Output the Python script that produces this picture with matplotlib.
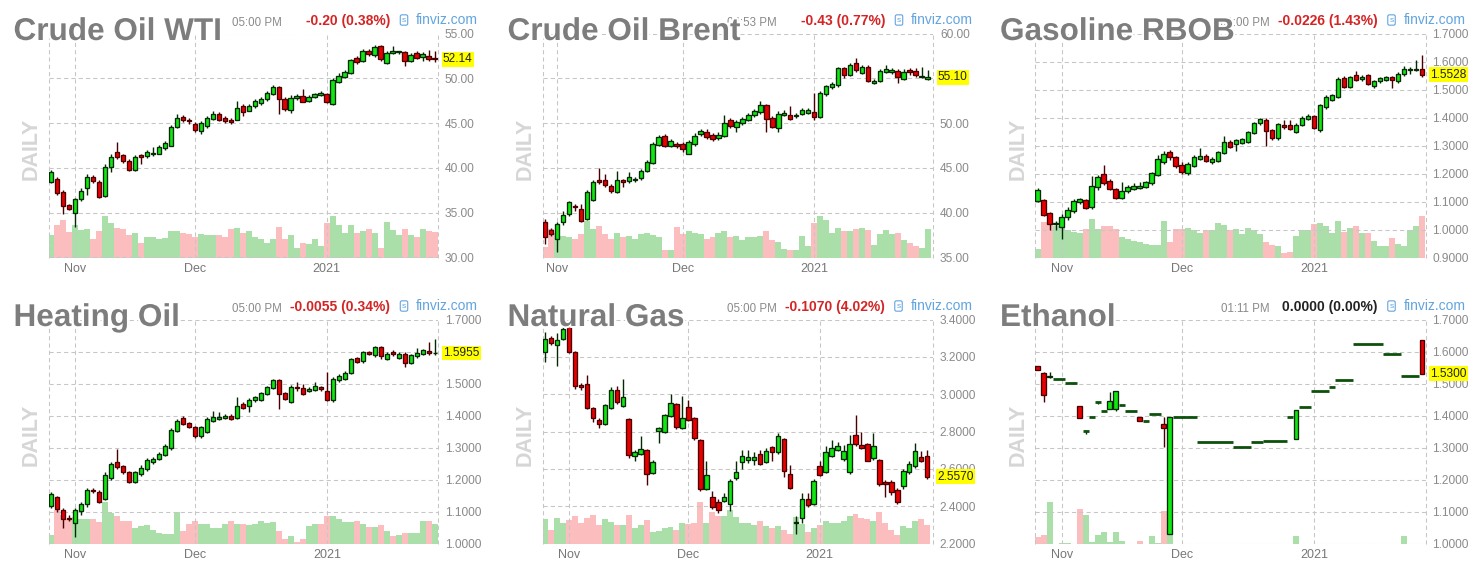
import numpy as np
import matplotlib.pyplot as plt
import matplotlib.patheffects as pe

plt.rcParams['font.family'] = ['Liberation Sans', 'DejaVu Sans']

W, H = 1480, 569

# ---------------- data ----------------
months = ['Nov', 'Dec', '2021']

wti_open = [38.4, 38.8, 37.3, 35.9, 35.0, 36.5, 37.8, 39.0, 38.4, 36.9,
            40.1, 41.8, 41.4, 40.8, 39.8, 41.4, 41.3, 41.5, 41.6, 42.2,
            42.5, 44.6, 45.7, 45.3, 44.9, 44.1, 44.7, 45.5, 46.0, 45.6,
            45.4, 45.4, 46.9, 46.4, 46.9, 47.2, 47.7, 48.3, 49.0, 47.7,
            46.5, 47.8, 48.0, 47.5, 47.9, 48.1, 48.2, 47.1, 49.6, 50.2,
            50.6, 52.3, 51.9, 53.1, 52.6, 53.6, 51.7, 52.8, 52.9, 52.9,
            51.9, 52.8, 52.4, 52.5, 52.3]
wti_close = [39.5, 37.2, 35.8, 35.4, 36.5, 37.4, 39.0, 38.5, 36.7, 40.1,
             41.2, 41.2, 40.8, 39.8, 41.2, 41.2, 41.8, 41.7, 42.3, 42.8,
             44.6, 45.6, 45.3, 45.2, 44.2, 45.0, 45.6, 46.0, 45.4, 45.2,
             45.1, 46.7, 46.2, 46.9, 47.5, 47.7, 48.4, 49.0, 47.7, 46.6,
             47.8, 48.0, 47.4, 47.9, 48.2, 48.4, 47.4, 49.8, 50.3, 50.7,
             52.0, 51.8, 53.1, 52.7, 53.5, 52.1, 52.8, 53.1, 53.0, 51.9,
             52.6, 52.3, 52.7, 52.1, 52.14]
wti_high = [39.8, 39.0, 37.5, 36.0, 36.6, 37.8, 39.3, 39.2, 38.6, 40.4,
            41.6, 42.9, 41.6, 41.0, 41.4, 41.6, 42.0, 42.3, 42.5, 43.0,
            44.8, 46.0, 45.9, 45.6, 45.1, 45.2, 45.8, 46.4, 46.2, 45.8,
            45.6, 47.5, 47.1, 47.1, 47.7, 47.9, 48.6, 49.2, 49.1, 47.9,
            48.1, 48.2, 48.8, 48.1, 48.4, 48.6, 48.4, 50.0, 50.6, 50.9,
            52.2, 52.5, 53.3, 53.3, 53.7, 53.7, 53.0, 53.6, 53.1, 53.1,
            52.8, 53.0, 52.9, 53.2, 53.0]
wti_low = [38.3, 37.0, 34.9, 35.3, 33.4, 36.3, 37.0, 38.3, 36.6, 36.8,
           39.5, 41.0, 40.6, 39.7, 39.7, 40.4, 41.1, 41.3, 41.5, 42.0,
           42.4, 44.4, 45.1, 44.9, 44.0, 43.8, 44.5, 45.3, 45.2, 45.0,
           44.9, 45.3, 45.8, 46.3, 46.7, 47.0, 47.5, 48.1, 46.0, 46.4,
           46.1, 47.6, 47.3, 47.4, 47.8, 48.0, 47.2, 47.0, 49.5, 50.0,
           50.5, 51.6, 51.8, 52.5, 52.4, 51.9, 51.6, 52.7, 52.7, 51.4,
           51.8, 52.1, 51.9, 51.9, 51.8]
wti_vol = [67, 97, 112, 77, 97, 83, 85, 57, 80, 125,
           105, 90, 87, 67, 75, 45, 63, 63, 57, 60,
           80, 80, 73, 70, 63, 72, 67, 67, 67, 63,
           85, 89, 73, 80, 63, 55, 45, 57, 93, 57,
           67, 30, 45, 40, 55, 35, 103, 125, 98, 73,
           97, 75, 80, 85, 75, 30, 107, 83, 67, 85,
           67, 63, 85, 80, 77]
wti_ticks = [30, 35, 40, 45, 50, 55]

brent_open = [39.0, 38.1, 37.1, 39.0, 39.9, 40.8, 40.4, 39.3, 41.4, 43.6,
              43.6, 43.0, 42.3, 43.6, 43.5, 43.6, 43.9, 44.7, 45.5, 47.6,
              48.6, 47.5, 47.7, 47.7, 46.6, 47.7, 48.8, 49.0, 48.7, 48.3,
              48.6, 50.3, 49.6, 50.0, 50.4, 50.9, 51.2, 52.0, 50.6, 49.4,
              50.9, 50.9, 50.8, 51.0, 51.1, 51.2, 50.7, 53.2, 54.0, 54.2,
              56.1, 55.4, 56.7, 55.6, 56.3, 54.5, 54.7, 55.7, 55.7, 55.8,
              54.9, 55.9, 55.8, 55.1, 54.9]
brent_close = [37.3, 37.6, 38.7, 39.7, 41.2, 40.6, 39.1, 42.3, 43.4, 43.4,
               43.1, 42.4, 43.6, 43.4, 44.0, 43.8, 44.7, 45.7, 47.7, 48.5,
               47.5, 48.0, 47.5, 47.1, 47.9, 48.6, 49.1, 48.4, 48.2, 48.7,
               50.0, 49.7, 50.1, 50.5, 50.9, 51.4, 52.0, 50.5, 49.6, 51.0,
               51.1, 50.5, 50.9, 51.5, 51.5, 50.7, 53.4, 54.1, 54.4, 56.1,
               55.4, 56.5, 55.9, 56.3, 54.7, 54.7, 55.8, 56.0, 55.9, 55.1,
               55.7, 55.7, 55.4, 55.3, 55.1]
brent_high = [39.3, 38.3, 39.0, 40.2, 41.3, 41.0, 41.0, 42.5, 43.6, 45.0,
              44.3, 43.2, 44.6, 43.8, 44.5, 44.0, 44.9, 45.9, 47.9, 48.7,
              48.8, 48.2, 47.9, 47.9, 48.1, 48.9, 49.3, 49.3, 48.9, 49.0,
              50.9, 50.6, 50.3, 50.7, 51.1, 51.6, 52.5, 52.1, 50.8, 51.3,
              51.5, 51.9, 51.1, 51.7, 51.7, 53.4, 53.6, 54.3, 54.6, 56.3,
              56.3, 56.7, 57.3, 56.5, 56.5, 54.9, 56.0, 56.5, 56.1, 56.0,
              56.0, 56.1, 56.1, 56.3, 55.9]
brent_low = [36.5, 37.4, 35.6, 38.6, 39.6, 40.2, 39.0, 39.2, 41.3, 43.2,
             42.9, 42.2, 42.2, 42.9, 43.3, 43.4, 43.7, 44.5, 45.4, 47.4,
             47.3, 47.3, 47.2, 46.8, 46.5, 47.5, 48.6, 48.2, 48.0, 48.1,
             48.5, 49.5, 49.0, 49.8, 50.2, 50.7, 51.0, 49.0, 49.4, 49.0,
             50.8, 50.3, 50.6, 50.9, 51.0, 50.4, 50.6, 53.0, 53.8, 54.0,
             55.0, 55.3, 55.7, 55.5, 54.6, 54.4, 54.6, 55.6, 55.5, 54.5,
             54.8, 55.4, 55.2, 55.0, 54.8]
brent_vol = [32, 90, 75, 67, 63, 57, 72, 115, 90, 97,
             72, 57, 75, 63, 67, 59, 72, 75, 70, 63,
             23, 23, 95, 73, 82, 78, 72, 59, 65, 78,
             82, 65, 68, 55, 63, 63, 67, 82, 55, 48,
             27, 23, 23, 68, 35, 108, 130, 117, 77, 93,
             82, 82, 90, 93, 85, 40, 72, 85, 72, 77,
             55, 45, 35, 30, 90]
brent_ticks = [35, 40, 45, 50, 55, 60]

rbob_open = [1.103, 1.105, 1.058, 1.018, 1.008, 1.043, 1.067, 1.097, 1.105, 1.079,
             1.151, 1.198, 1.172, 1.145, 1.113, 1.139, 1.145, 1.147, 1.153, 1.165,
             1.196, 1.240, 1.276, 1.258, 1.232, 1.201, 1.228, 1.252, 1.261, 1.240,
             1.246, 1.273, 1.312, 1.306, 1.310, 1.312, 1.344, 1.380, 1.392, 1.354,
             1.327, 1.375, 1.375, 1.348, 1.375, 1.395, 1.404, 1.354, 1.437, 1.464,
             1.473, 1.542, 1.509, 1.551, 1.538, 1.551, 1.511, 1.530, 1.533, 1.545,
             1.530, 1.557, 1.569, 1.569, 1.575]
rbob_close = [1.141, 1.053, 1.019, 1.025, 1.046, 1.070, 1.103, 1.109, 1.077, 1.157,
              1.187, 1.165, 1.145, 1.113, 1.136, 1.151, 1.155, 1.155, 1.169, 1.201,
              1.252, 1.270, 1.258, 1.228, 1.204, 1.234, 1.258, 1.264, 1.246, 1.252,
              1.276, 1.312, 1.296, 1.320, 1.322, 1.348, 1.380, 1.395, 1.351, 1.327,
              1.375, 1.366, 1.360, 1.375, 1.399, 1.407, 1.363, 1.443, 1.473, 1.479,
              1.539, 1.509, 1.545, 1.535, 1.546, 1.521, 1.530, 1.540, 1.545, 1.535,
              1.557, 1.575, 1.575, 1.575, 1.5528]
rbob_high = [1.148, 1.108, 1.062, 1.030, 1.055, 1.080, 1.110, 1.112, 1.110, 1.190,
             1.195, 1.232, 1.180, 1.150, 1.170, 1.160, 1.165, 1.170, 1.175, 1.205,
             1.265, 1.280, 1.285, 1.262, 1.240, 1.240, 1.265, 1.290, 1.268, 1.258,
             1.280, 1.335, 1.318, 1.325, 1.328, 1.352, 1.385, 1.400, 1.398, 1.358,
             1.380, 1.390, 1.392, 1.380, 1.405, 1.412, 1.410, 1.450, 1.480, 1.485,
             1.545, 1.548, 1.550, 1.565, 1.552, 1.555, 1.535, 1.545, 1.550, 1.550,
             1.562, 1.585, 1.580, 1.605, 1.622]
rbob_low = [1.100, 1.050, 1.000, 1.000, 0.966, 1.035, 1.060, 1.090, 1.072, 1.075,
            1.140, 1.160, 1.140, 1.110, 1.110, 1.130, 1.140, 1.145, 1.150, 1.160,
            1.190, 1.235, 1.250, 1.220, 1.200, 1.195, 1.222, 1.248, 1.240, 1.235,
            1.242, 1.268, 1.290, 1.280, 1.305, 1.308, 1.340, 1.375, 1.300, 1.320,
            1.320, 1.360, 1.355, 1.344, 1.370, 1.390, 1.358, 1.350, 1.430, 1.460,
            1.470, 1.505, 1.505, 1.530, 1.532, 1.515, 1.505, 1.525, 1.530, 1.505,
            1.525, 1.550, 1.555, 1.565, 1.545]
rbob_vol = [27, 112, 107, 97, 92, 85, 80, 75, 89, 120,
            89, 97, 97, 89, 65, 57, 53, 48, 43, 40,
            40, 115, 48, 89, 89, 92, 85, 78, 85, 85,
            107, 102, 85, 89, 72, 92, 87, 72, 48, 40,
            35, 13, 17, 67, 85, 85, 103, 107, 97, 77,
            115, 80, 93, 97, 77, 77, 53, 35, 35, 62,
            43, 35, 85, 97, 130]
rbob_ticks = [0.9, 1.0, 1.1, 1.2, 1.3, 1.4, 1.5, 1.6, 1.7]

ho_open = [1.116, 1.144, 1.105, 1.081, 1.064, 1.102, 1.123, 1.168, 1.162, 1.139,
           1.204, 1.256, 1.241, 1.222, 1.193, 1.217, 1.233, 1.254, 1.264, 1.277,
           1.298, 1.353, 1.392, 1.377, 1.364, 1.335, 1.350, 1.384, 1.390, 1.392,
           1.400, 1.392, 1.437, 1.431, 1.447, 1.450, 1.468, 1.486, 1.510, 1.471,
           1.442, 1.489, 1.486, 1.477, 1.481, 1.488, 1.475, 1.447, 1.510, 1.515,
           1.534, 1.580, 1.569, 1.597, 1.588, 1.614, 1.576, 1.597, 1.581, 1.593,
           1.565, 1.585, 1.593, 1.602, 1.594]
ho_close = [1.155, 1.108, 1.076, 1.076, 1.105, 1.123, 1.168, 1.163, 1.131, 1.214,
            1.249, 1.238, 1.222, 1.193, 1.222, 1.235, 1.262, 1.264, 1.280, 1.306,
            1.356, 1.384, 1.374, 1.364, 1.335, 1.364, 1.390, 1.395, 1.396, 1.400,
            1.390, 1.429, 1.423, 1.450, 1.458, 1.471, 1.489, 1.510, 1.468, 1.452,
            1.489, 1.485, 1.468, 1.484, 1.491, 1.482, 1.450, 1.515, 1.525, 1.534,
            1.576, 1.567, 1.597, 1.592, 1.614, 1.586, 1.593, 1.591, 1.593, 1.565,
            1.588, 1.596, 1.604, 1.594, 1.5955]
ho_high = [1.160, 1.148, 1.110, 1.090, 1.110, 1.130, 1.172, 1.172, 1.166, 1.225,
           1.255, 1.295, 1.245, 1.226, 1.226, 1.245, 1.266, 1.270, 1.285, 1.310,
           1.362, 1.390, 1.398, 1.381, 1.368, 1.368, 1.394, 1.415, 1.412, 1.405,
           1.404, 1.458, 1.441, 1.454, 1.462, 1.475, 1.493, 1.515, 1.514, 1.475,
           1.495, 1.505, 1.500, 1.488, 1.506, 1.492, 1.535, 1.519, 1.530, 1.538,
           1.580, 1.584, 1.601, 1.601, 1.618, 1.618, 1.597, 1.605, 1.597, 1.597,
           1.592, 1.612, 1.608, 1.630, 1.640]
ho_low = [1.110, 1.100, 1.050, 1.070, 1.019, 1.090, 1.115, 1.158, 1.127, 1.135,
          1.198, 1.232, 1.218, 1.190, 1.190, 1.210, 1.228, 1.250, 1.260, 1.272,
          1.293, 1.348, 1.370, 1.360, 1.330, 1.330, 1.346, 1.380, 1.385, 1.388,
          1.386, 1.388, 1.419, 1.410, 1.443, 1.446, 1.464, 1.482, 1.419, 1.448,
          1.438, 1.478, 1.464, 1.473, 1.477, 1.478, 1.446, 1.443, 1.506, 1.511,
          1.530, 1.563, 1.565, 1.588, 1.584, 1.576, 1.572, 1.586, 1.577, 1.552,
          1.561, 1.581, 1.589, 1.590, 1.590]
ho_vol = [25, 105, 87, 77, 82, 77, 77, 75, 67, 129,
          95, 85, 71, 71, 49, 55, 57, 42, 34, 29,
          29, 97, 39, 59, 70, 61, 59, 49, 49, 61,
          70, 61, 61, 57, 61, 69, 64, 67, 39, 15,
          22, 5, 15, 55, 59, 59, 85, 85, 75, 67,
          67, 70, 59, 51, 51, 57, 39, 22, 27, 31,
          31, 31, 71, 71, 61]
ho_ticks = [1.0, 1.1, 1.2, 1.3, 1.4, 1.5, 1.6, 1.7]

ng_open = [3.226, 3.301, 3.266, 3.298, 3.366, 3.226, 3.051, 3.056, 2.925, 2.864,
           2.841, 2.925, 3.025, 2.936, 2.868, 2.667, 2.680, 2.703, 2.577, 2.805,
           2.796, 2.882, 2.948, 2.818, 2.930, 2.871, 2.757, 2.491, 2.447, 2.420,
           2.429, 2.411, 2.549, 2.638, 2.648, 2.648, 2.680, 2.638, 2.719, 2.689,
           2.760, 2.572, 2.309, 2.334, 2.438, 2.411, 2.613, 2.585, 2.671, 2.703,
           2.653, 2.581, 2.782, 2.728, 2.733, 2.656, 2.649, 2.530, 2.527, 2.488,
           2.509, 2.581, 2.613, 2.662, 2.671]
ng_close = [3.298, 3.276, 3.289, 3.348, 3.226, 3.043, 3.038, 2.925, 2.871, 2.841,
            2.943, 3.025, 2.957, 2.984, 2.674, 2.689, 2.706, 2.572, 2.638, 2.818,
            2.886, 2.954, 2.823, 2.871, 2.864, 2.764, 2.491, 2.567, 2.393, 2.380,
            2.447, 2.536, 2.581, 2.671, 2.666, 2.666, 2.626, 2.698, 2.689, 2.775,
            2.590, 2.495, 2.316, 2.438, 2.405, 2.536, 2.567, 2.692, 2.710, 2.721,
            2.698, 2.733, 2.733, 2.710, 2.644, 2.724, 2.518, 2.518, 2.477, 2.423,
            2.590, 2.626, 2.698, 2.644, 2.557]
ng_high = [3.334, 3.310, 3.330, 3.370, 3.380, 3.230, 3.060, 3.102, 2.930, 2.870,
           2.950, 3.040, 3.045, 3.080, 2.875, 2.700, 2.774, 2.708, 2.645, 2.825,
           2.895, 3.000, 2.952, 2.990, 2.970, 2.880, 2.760, 2.640, 2.480, 2.440,
           2.470, 2.545, 2.640, 2.700, 2.700, 2.690, 2.700, 2.710, 2.725, 2.790,
           2.765, 2.620, 2.350, 2.470, 2.470, 2.545, 2.640, 2.720, 2.755, 2.745,
           2.730, 2.780, 2.890, 2.800, 2.740, 2.790, 2.655, 2.540, 2.540, 2.495,
           2.600, 2.640, 2.740, 2.695, 2.700]
ng_low = [3.174, 3.262, 3.149, 3.290, 3.220, 3.030, 3.025, 2.920, 2.850, 2.820,
          2.835, 2.920, 2.950, 2.930, 2.660, 2.640, 2.672, 2.513, 2.570, 2.739,
          2.790, 2.876, 2.815, 2.812, 2.858, 2.755, 2.480, 2.485, 2.385, 2.365,
          2.420, 2.375, 2.540, 2.600, 2.630, 2.620, 2.620, 2.630, 2.640, 2.680,
          2.555, 2.490, 2.250, 2.310, 2.395, 2.405, 2.560, 2.580, 2.665, 2.695,
          2.640, 2.575, 2.720, 2.705, 2.640, 2.650, 2.510, 2.450, 2.460, 2.410,
          2.490, 2.575, 2.605, 2.635, 2.545]
ng_vol = [75, 42, 79, 65, 72, 85, 65, 80, 89, 57,
          75, 67, 57, 57, 87, 47, 57, 74, 35, 40,
          49, 52, 42, 65, 59, 65, 129, 65, 97, 84,
          84, 105, 82, 65, 62, 57, 69, 55, 49, 55,
          42, 29, 82, 59, 35, 47, 57, 71, 65, 62,
          71, 85, 92, 79, 75, 69, 97, 62, 42, 27,
          53, 49, 70, 75, 57]
ng_ticks = [2.2, 2.4, 2.6, 2.8, 3.0, 3.2, 3.4]

eth_open = [1.554, 1.534, 1.520, 1.513, 1.513, 1.502, 1.502, 1.431, 1.351, 1.395,
            1.442, 1.414, 1.421, 1.419, 1.434, 1.414, 1.414, 1.395, 1.384, 1.405,
            1.405, 1.374, 1.029, 1.395, 1.395, 1.395, 1.395, 1.317, 1.317, 1.317,
            1.317, 1.317, 1.317, 1.301, 1.301, 1.301, 1.317, 1.317, 1.321, 1.321,
            1.321, 1.321, 1.395, 1.327, 1.428, 1.428, 1.478, 1.478, 1.478, 1.489,
            1.512, 1.512, 1.512, 1.625, 1.625, 1.625, 1.625, 1.625, 1.591, 1.591,
            1.591, 1.523, 1.523, 1.523, 1.637]
eth_close = [1.543, 1.463, 1.525, 1.513, 1.513, 1.502, 1.502, 1.392, 1.351, 1.395,
             1.442, 1.414, 1.444, 1.475, 1.434, 1.414, 1.414, 1.384, 1.384, 1.405,
             1.405, 1.360, 1.395, 1.395, 1.395, 1.395, 1.395, 1.317, 1.317, 1.317,
             1.317, 1.317, 1.317, 1.301, 1.301, 1.301, 1.317, 1.317, 1.321, 1.321,
             1.321, 1.321, 1.395, 1.416, 1.428, 1.428, 1.478, 1.478, 1.478, 1.489,
             1.512, 1.512, 1.512, 1.625, 1.625, 1.625, 1.625, 1.625, 1.591, 1.591,
             1.591, 1.523, 1.523, 1.523, 1.530]
eth_high = [1.556, 1.536, 1.535, 1.513, 1.513, 1.502, 1.502, 1.431, 1.351, 1.395,
            1.442, 1.414, 1.475, 1.478, 1.434, 1.414, 1.414, 1.395, 1.384, 1.405,
            1.405, 1.395, 1.395, 1.395, 1.395, 1.395, 1.395, 1.317, 1.317, 1.317,
            1.317, 1.317, 1.317, 1.301, 1.301, 1.301, 1.317, 1.317, 1.321, 1.321,
            1.321, 1.321, 1.395, 1.416, 1.428, 1.428, 1.478, 1.478, 1.478, 1.489,
            1.512, 1.512, 1.512, 1.625, 1.625, 1.625, 1.625, 1.625, 1.591, 1.591,
            1.591, 1.523, 1.523, 1.523, 1.637]
eth_low = [1.541, 1.443, 1.518, 1.513, 1.513, 1.502, 1.502, 1.392, 1.343, 1.395,
           1.437, 1.414, 1.419, 1.415, 1.434, 1.414, 1.414, 1.384, 1.384, 1.405,
           1.405, 1.301, 1.029, 1.395, 1.395, 1.395, 1.395, 1.317, 1.317, 1.317,
           1.317, 1.317, 1.317, 1.301, 1.301, 1.301, 1.317, 1.317, 1.321, 1.321,
           1.321, 1.321, 1.395, 1.327, 1.428, 1.428, 1.478, 1.478, 1.478, 1.489,
           1.512, 1.512, 1.512, 1.625, 1.625, 1.625, 1.625, 1.625, 1.591, 1.591,
           1.591, 1.523, 1.523, 1.523, 1.530]
eth_vol = [7, 9, 42, 0, 1, 1, 0, 35, 29, 2,
           9, 12, 2, 12, 3, 0, 0, 3, 0, 8,
           1, 33, 10, 0, 0, 0, 0, 0, 0, 0,
           0, 0, 0, 0, 0, 0, 0, 0, 0, 0,
           0, 0, 0, 8, 0, 0, 0, 0, 0, 0,
           0, 0, 0, 0, 0, 0, 0, 0, 0, 0,
           0, 8, 0, 0, 0]
eth_ticks = [1.0, 1.1, 1.2, 1.3, 1.4, 1.5, 1.6, 1.7]

# ---------------- styling ----------------
BODY_UP, EDGE_UP = '#12e612', '#042a04'
BODY_DN, EDGE_DN = '#e60000', '#4a0000'
FLAT = '#0c500c'
VOL_UP, VOL_DN = '#aadfaa', '#fbbdbd'
GRID = '#c6c6c6'
RED_TXT = '#d42424'
BLUE_TXT = '#62a4df'

panels = [
    dict(rect=(48.5, 33.5, 389.5, 224), xlim=(-0.4, 64.55), mpos=[4, 24, 46],
         title='Crude Oil WTI', time='05:00 PM', chg='-0.20 (0.38%)', chg_col=RED_TXT,
         o=wti_open, h=wti_high, l=wti_low, c=wti_close, v=wti_vol,
         ticks=wti_ticks, fmt='{:.2f}', last='52.14'),
    dict(rect=(542.5, 33.5, 390.5, 224), xlim=(-0.45, 64.9), mpos=[2, 23, 45],
         title='Crude Oil Brent', time='04:53 PM', chg='-0.43 (0.77%)', chg_col=RED_TXT,
         o=brent_open, h=brent_high, l=brent_low, c=brent_close, v=brent_vol,
         ticks=brent_ticks, fmt='{:.2f}', last='55.10'),
    dict(rect=(1035, 33.5, 390.5, 224), xlim=(-0.45, 64.6), mpos=[4, 24, 46],
         title='Gasoline RBOB', time='01:00 PM', chg='-0.0226 (1.43%)', chg_col=RED_TXT,
         o=rbob_open, h=rbob_high, l=rbob_low, c=rbob_close, v=rbob_vol,
         ticks=rbob_ticks, fmt='{:.4f}', last='1.5528'),
    dict(rect=(48.5, 319.5, 389.5, 224), xlim=(-0.4, 64.5), mpos=[4, 24, 46],
         title='Heating Oil', time='05:00 PM', chg='-0.0055 (0.34%)', chg_col=RED_TXT,
         o=ho_open, h=ho_high, l=ho_low, c=ho_close, v=ho_vol,
         ticks=ho_ticks, fmt='{:.4f}', last='1.5955'),
    dict(rect=(542.5, 319.5, 390, 224), xlim=(-0.45, 64.9), mpos=[4, 24, 46],
         title='Natural Gas', time='05:00 PM', chg='-0.1070 (4.02%)', chg_col=RED_TXT,
         o=ng_open, h=ng_high, l=ng_low, c=ng_close, v=ng_vol,
         ticks=ng_ticks, fmt='{:.4f}', last='2.5570'),
    dict(rect=(1035, 319.5, 390.5, 224), xlim=(-0.45, 64.6), mpos=[4, 24, 46],
         title='Ethanol', time='01:11 PM', chg='0.0000 (0.00%)', chg_col='#222222',
         o=eth_open, h=eth_high, l=eth_low, c=eth_close, v=eth_vol,
         ticks=eth_ticks, fmt='{:.4f}', last='1.5300'),
]


def fx(px):
    return px / W


def fy(py):
    return 1 - py / H


def flat_runs(x, o, c):
    # group consecutive unchanged days at one price into a single dash
    runs = []
    for i in x[o == c]:
        if runs and runs[-1][1] == i - 1 and runs[-1][2] == c[i]:
            runs[-1][1] = i
        else:
            runs.append([i, i, c[i]])
    return runs


def draw_panel(fig, p):
    left, top, width, height = p['rect']
    ax = fig.add_axes([fx(left), fy(top + height), width / W, height / H])
    axv = ax.twinx()
    ax.set_zorder(axv.get_zorder() + 1)
    ax.patch.set_visible(False)

    o = np.array(p['o'])
    h = np.array(p['h'])
    l = np.array(p['l'])
    c = np.array(p['c'])
    x = np.arange(len(o))
    up = c >= o
    flat = o == c

    # volume bars underneath
    axv.bar(x, p['v'], width=1.0, color=np.where(up, VOL_UP, VOL_DN), linewidth=0)
    axv.set_ylim(0, max(p['v']) / 0.186)
    axv.axis('off')

    # wicks
    ax.vlines(x, l, h, colors=np.where(up, EDGE_UP, EDGE_DN), linewidth=1.0, zorder=2)
    # bodies
    nf = ~flat
    ax.bar(x[nf], np.abs(c - o)[nf], bottom=np.minimum(o, c)[nf], width=0.76,
           color=np.where(up[nf], BODY_UP, BODY_DN),
           edgecolor=np.where(up[nf], EDGE_UP, EDGE_DN), linewidth=0.95, zorder=3)
    for i0, i1, price in flat_runs(x, o, c):
        ax.plot([i0 - 0.5, i1 + 0.5], [price, price], color=FLAT, linewidth=2.0,
                solid_capstyle='butt', zorder=3)

    ax.set_xlim(*p['xlim'])
    ax.set_ylim(p['ticks'][0], p['ticks'][-1])
    ax.set_yticks(p['ticks'])
    ax.set_yticklabels([p['fmt'].format(t) for t in p['ticks']])
    ax.yaxis.tick_right()
    ax.set_xticks(p['mpos'])
    ax.set_xticklabels(months)
    ax.tick_params(axis='y', length=0, pad=5, labelsize=8.6, labelcolor='#8a8a8a')
    ax.tick_params(axis='x', length=0, pad=4, labelsize=9, labelcolor='#777777')
    ax.grid(True, color=GRID, linestyle=(0, (4, 3)), linewidth=0.75)
    ax.set_axisbelow(True)
    for xe in p['xlim']:
        ax.axvline(xe, color=GRID, linestyle=(0, (4, 3)), linewidth=0.75, clip_on=False, zorder=0.5)
    for s in ax.spines.values():
        s.set_visible(False)

    # last price tag
    ax.annotate(p['last'], xy=(1, c[-1]), xycoords=ax.get_yaxis_transform(),
                xytext=(5, 0), textcoords='offset pixels', ha='left', va='center',
                fontsize=8.6, color='#222222', zorder=6, annotation_clip=False,
                bbox=dict(boxstyle='square,pad=0.12', fc='#ffff00', ec='none'))

    right = left + width
    # header texts
    fig.text(fx(right - 156), fy(top - 10.5), p['time'], ha='right', va='center',
             fontsize=8.3, color='#8a8a8a', zorder=3)
    fig.text(fx(right - 48), fy(top - 12.5), p['chg'], ha='right', va='center',
             fontsize=10, fontweight='bold', color=p['chg_col'], zorder=3)
    fig.text(fx(right + 40), fy(top - 13.5), 'finviz.com', ha='right', va='center',
             fontsize=10, color=BLUE_TXT, zorder=3)
    fig.text(fx(right - 34), fy(top - 13.5), 's', ha='center', va='center',
             fontsize=6, color=BLUE_TXT, zorder=3,
             bbox=dict(boxstyle='round,pad=0.2', fc='white', ec=BLUE_TXT, lw=0.8))
    # title
    fig.text(fx(left - 35), fy(top + 6.5), p['title'], ha='left', va='baseline',
             fontsize=22.7, fontweight='bold', color='#7d7d7d', zorder=5,
             path_effects=[pe.withStroke(linewidth=3, foreground='white')])
    # DAILY tag
    fig.text(fx(left - 17), fy(top + 115), 'DAILY', ha='center', va='center', rotation=90,
             fontsize=15.5, fontweight='bold', color='#d6d6d6')


fig = plt.figure(figsize=(W / 100, H / 100), dpi=100)
for p in panels:
    draw_panel(fig, p)

fig.savefig('out.png', dpi=100, facecolor='white')
